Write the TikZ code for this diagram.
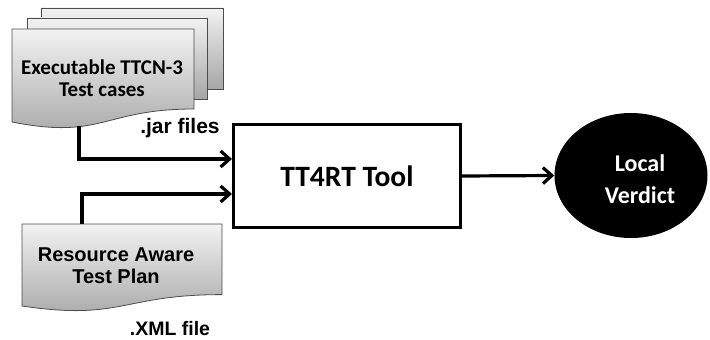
\documentclass[tikz,border=0pt]{standalone}
\usepackage{fontspec}
\newfontfamily\calfnt{Carlito}
\newfontfamily\arifnt{Liberation Sans}
\usetikzlibrary{arrows.meta,calc,shapes.geometric}
\tikzset{
  sheet/.style={draw=black!70, line width=0.8pt, top color=black!5, bottom color=black!35},
  conn/.style={line width=3.2pt, -{Straight Barb[length=9pt,width=16pt,line width=3.2pt]}},
  lbl/.style={inner sep=0pt, align=center},
}
\begin{document}
\begin{tikzpicture}[x=1pt,y=1pt]
\useasboundingbox (0,0) rectangle (710,340);
% multidocument sheets (y = 340 - pixel y)
\path[sheet] (41,332) rectangle (223,251);
\path[sheet] (27,322) rectangle (207,241);
\path[sheet] (12,311) -- (194,311) -- (194,231)
   .. controls (103,231) and (103,200) .. (12,218) -- cycle;
\node[lbl, font=\calfnt\bfseries\fontsize{21}{22}\selectfont] (exe) at (102,262) {Executable TTCN-3\\Test cases};
\node[lbl, font=\arifnt\bfseries\fontsize{21}{22}\selectfont] (jar) at (180,212) {.jar files};
% resource doc
\path[sheet] (22,116) -- (222,116) -- (222,45.4)
   .. controls (122,45.4) and (122,19) .. (22,34) -- cycle;
\node[lbl, font=\arifnt\bfseries\fontsize{20}{22}\selectfont] (plan) at (116,74) {Resource Aware\\Test Plan};
\node[lbl, font=\arifnt\bfseries\fontsize{19.5}{22}\selectfont] (xml) at (170,11) {.XML file};
% tool box
\node[draw, line width=3pt, minimum width=227pt, minimum height=103pt, font=\calfnt\bfseries\fontsize{29.5}{34}\selectfont] (tool) at (347,164) {TT4RT Tool};
% verdict
\node[ellipse, fill=black, minimum width=153pt, minimum height=125pt, inner sep=0pt] (verdict) at (631,164.5) {};
\node[lbl, text=white, font=\calfnt\bfseries\fontsize{24}{32}\selectfont] (vtxt) at (640,161) {Local\\Verdict};
% connectors
\coordinate (jarsrc) at (79,214);
\coordinate (plansrc) at (82,116);
\draw[conn] (jarsrc) |- ([yshift=17pt]tool.west);
\draw[conn] (plansrc) |- ([yshift=-18pt]tool.west);
\draw[conn] (tool.east) -- (verdict.west);
\end{tikzpicture}
\end{document}
